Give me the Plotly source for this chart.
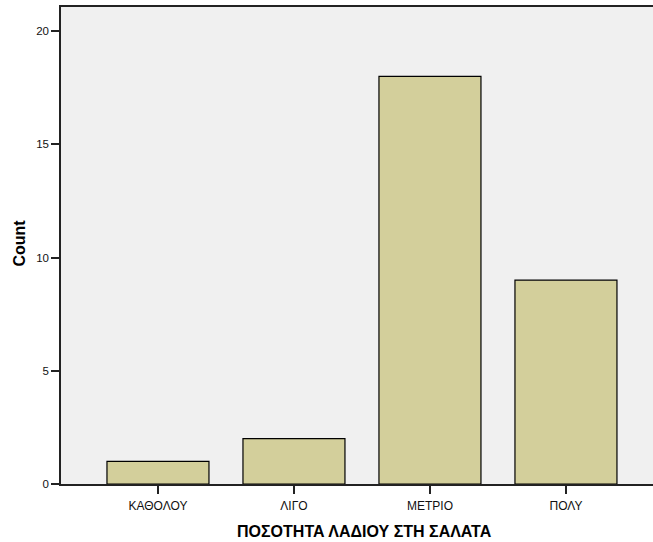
import plotly.graph_objects as go

# Frequency of each response category
categories = ["ΚΑΘΟΛΟΥ", "ΛΙΓΟ", "ΜΕΤΡΙΟ", "ΠΟΛΥ"]
counts = [1, 2, 18, 9]
y_ticks = [0, 5, 10, 15, 20]

x_title = "ΠΟΣΟΤΗΤΑ ΛΑΔΙΟΥ ΣΤΗ ΣΑΛΑΤΑ"
y_title = "Count"

fig = go.Figure(
    go.Bar(
        x=list(range(len(categories))),
        y=counts,
        width=0.75,
        marker=dict(color="#d3cf9b", line=dict(color="#000000", width=1.2)),
        hoverinfo="x+y",
    )
)

font = "Liberation Sans, Arial, sans-serif"

fig.update_layout(
    width=653,
    height=542,
    margin=dict(l=61, r=0, t=7, b=58),
    paper_bgcolor="#ffffff",
    plot_bgcolor="#f0f0f0",
    showlegend=False,
    font=dict(family=font, color="#000000"),
    xaxis=dict(
        range=[-0.713, 3.64],
        tickmode="array",
        tickvals=list(range(len(categories))),
        ticktext=categories,
        ticks="outside",
        ticklen=8,
        tickwidth=1.5,
        tickcolor="#222222",
        tickfont=dict(size=12, family=font, color="#111111"),
        ticklabelstandoff=2,
        showline=True,
        linecolor="#222222",
        linewidth=1.5,
        mirror=True,
        showgrid=False,
        zeroline=False,
    ),
    yaxis=dict(
        range=[0, 21.06],
        tickmode="array",
        tickvals=y_ticks,
        ticks="outside",
        ticklen=8,
        tickwidth=1.5,
        tickcolor="#222222",
        tickfont=dict(size=11.5, family=font, color="#111111"),
        showline=True,
        linecolor="#222222",
        linewidth=1.5,
        showgrid=False,
        zeroline=False,
    ),
    annotations=[
        # x-axis title, centred under the full category band
        dict(
            text=f"<b>{x_title}</b>",
            xref="paper", yref="paper",
            x=(364 - 61) / 592, y=-(531 - 484) / 477,
            xanchor="center", yanchor="middle",
            showarrow=False,
            font=dict(size=16, family=font, color="#000000"),
        ),
        # y-axis title
        dict(
            text=f"<b>{y_title}</b>",
            xref="paper", yref="paper",
            x=-(61 - 19) / 592, y=(484 - 243.5) / 477,
            xanchor="center", yanchor="middle",
            textangle=-90,
            showarrow=False,
            font=dict(size=16, family=font, color="#000000"),
        ),
    ],
)

fig.write_html("out.html")
